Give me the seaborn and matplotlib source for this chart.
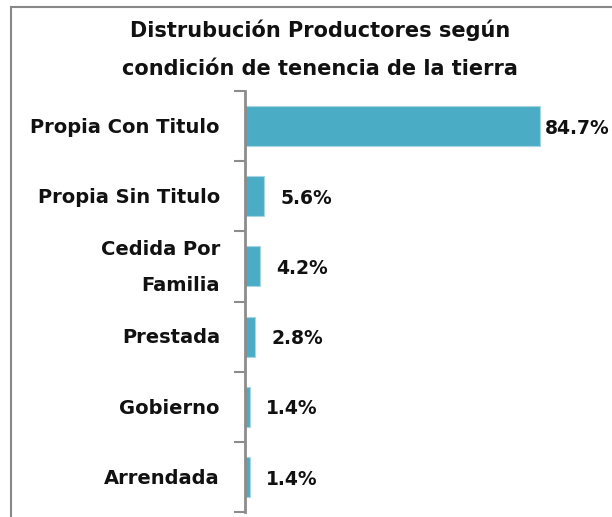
import matplotlib
matplotlib.use("Agg")
import matplotlib.pyplot as plt
import seaborn as sns
import pandas as pd
from matplotlib.patches import Rectangle

categories = ["Propia Con Titulo", "Propia Sin Titulo", "Cedida Por\nFamilia",
              "Prestada", "Gobierno", "Arrendada"]
values = [84.7, 5.6, 4.2, 2.8, 1.4, 1.4]
labels = ["84.7%", "5.6%", "4.2%", "2.8%", "1.4%", "1.4%"]
title = "Distrubución Productores según\ncondición de tenencia de la tierra"

sns.set_theme(style="white")
plt.rcParams['font.family'] = ['DejaVu Sans']

df = pd.DataFrame({"cat": categories, "val": values})

W, H = 612, 517
fig = plt.figure(figsize=(W/100, H/100), dpi=100)
ax = fig.add_axes([245/W, 5/H, (W-245)/W, 421/H])

sns.barplot(data=df, y="cat", x="val", orient="h", color="#4BACC6",
            width=0.57, edgecolor="#A8D5E2", linewidth=0.8, saturation=1, ax=ax)

ax.set_xlim(0, 105.4)
ax.set_ylim(5.5, -0.5)
ax.set_xlabel("")
ax.set_ylabel("")
ax.set_xticks([])
for s in ["top", "right", "bottom"]:
    ax.spines[s].set_visible(False)
ax.spines["left"].set_color("#8c8c8c")
ax.spines["left"].set_linewidth(2)

ax.set_yticks([i - 0.5 for i in range(len(categories) + 1)])
ax.set_yticklabels([])
ax.tick_params(axis="y", length=8, width=1.5, color="#8c8c8c", direction="out", left=True)
for i, c in enumerate(categories):
    ax.text(-7.2, i + 0.02, c, ha="right", va="center",
            fontsize=14, fontweight="bold", color="#111111", linespacing=2.15, clip_on=False)

for i, (v, lab) in enumerate(zip(values, labels)):
    off = 1.3 if v > 50 else 4.7
    ax.text(v + off, i + 0.03, lab, ha="left", va="center", fontsize=13.5,
            fontweight="bold", color="#111111", clip_on=False)

fig.text(320/W, 1 - 49/H, title, ha="center", va="center", fontsize=15,
         fontweight="bold", linespacing=2.1, color="#111111")

fig.patches.append(Rectangle((11/W, -0.1), 1.2, (517-7)/H + 0.1, transform=fig.transFigure,
                             fill=False, edgecolor="#888888", linewidth=1.5, clip_on=False))

fig.savefig("out.png", dpi=100)
